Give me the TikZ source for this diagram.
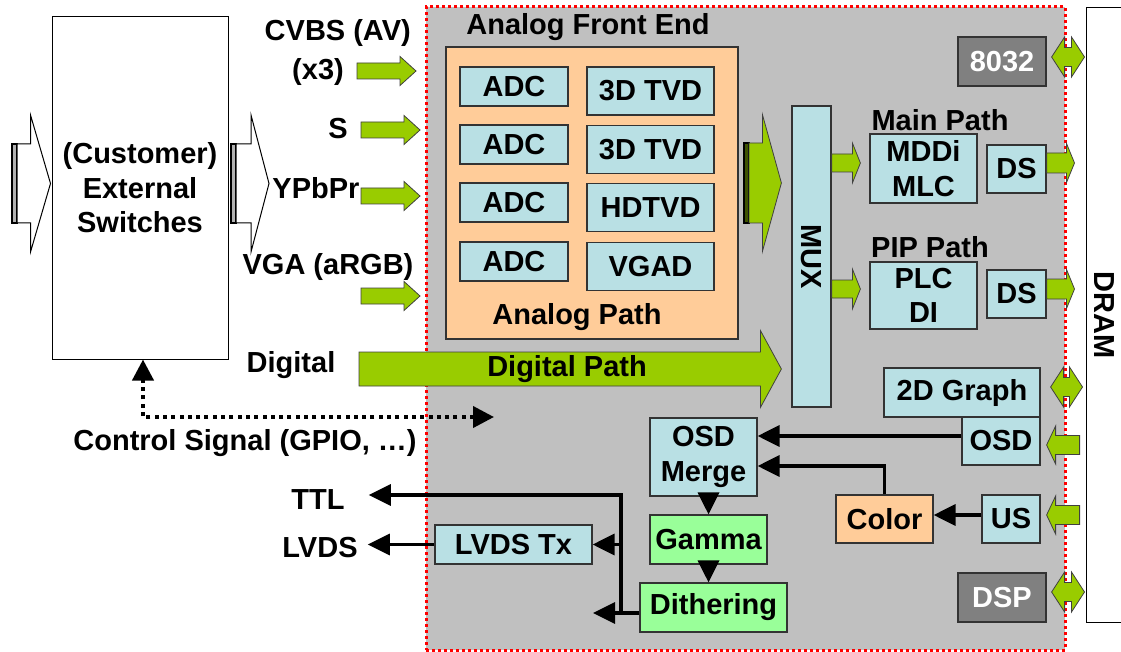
\documentclass[tikz,border=0pt]{standalone}
\usepackage{fontspec}
\setmainfont{Liberation Sans}
\usetikzlibrary{arrows.meta,calc}
\definecolor{socgray}{HTML}{C0C0C0}
\definecolor{lblue}{RGB}{185,224,228}
\definecolor{lorange}{HTML}{FFCC99}
\definecolor{agreen}{HTML}{99CC00}
\definecolor{lgreen}{HTML}{99FF99}
\definecolor{dgray}{HTML}{808080}
\begin{document}
\begin{tikzpicture}[x=1pt, y=-1pt,
    txt/.style={font=\bfseries\fontsize{29}{34.5}\selectfont, align=center, inner sep=0pt},
    blk/.style={txt, draw=black!80, line width=1.2pt, fill=lblue},
    conn/.style={line width=3.5pt, -{Triangle[length=22pt,width=21pt]}},
    ctl/.style={line width=4pt, dash pattern=on 4pt off 4.3pt, {Triangle[length=21pt,width=21pt]}-{Triangle[length=21pt,width=21pt]}},
    gfill/.style={fill=agreen, draw=black!75, line width=0.8pt},
    wfill/.style={fill=white, draw=black, line width=1pt},
    tailbar/.style={draw=black, line width=1.8pt},
    fat/.style n args={3}{to path={let \p1=(\tikztostart), \p2=(\tikztotarget) in
      (\x1,{\y1+#1}) -- ({\x2-(#3)},{\y1+#1}) -- ({\x2-(#3)},{\y1+#2}) -- (\x2,\y1)
      -- ({\x2-(#3)},{\y1-#2}) -- ({\x2-(#3)},{\y1-#1}) -- (\x1,{\y1-#1}) -- cycle}},
    dbl/.style n args={3}{to path={let \p1=(\tikztostart), \p2=(\tikztotarget) in
      (\x1,\y1) -- ({\x1+#3},{\y1+#2}) -- ({\x1+#3},{\y1+#1}) -- ({\x2-#3},{\y1+#1}) -- ({\x2-#3},{\y1+#2})
      -- (\x2,\y1) -- ({\x2-#3},{\y1-#2}) -- ({\x2-#3},{\y1-#1}) -- ({\x1+#3},{\y1-#1}) -- ({\x1+#3},{\y1-#2}) -- cycle}}]
    \useasboundingbox (0,0) rectangle (1121,652);
    % chip and memory
    \node[draw=red, fill=socgray, line width=3pt, dash pattern=on 3pt off 3pt, minimum width=639pt, minimum height=643pt, inner sep=0pt] (soc) at (745.5,328.5) {};
    \node[draw=black, line width=1pt, fill=white, minimum width=38pt, minimum height=614pt, inner sep=0pt] (dram) at (1105,315) {};
    \node[txt, rotate=-90] (draml) at (1104,315) {DRAM};
    % switches
    \node[txt, draw=black, line width=1pt, fill=white, minimum width=176pt, minimum height=342pt] (sw) at (140,188) {(Customer)\\External\\Switches};
    \coordinate (src) at (17,183.5);
    \draw[tailbar, fill=gray!60] ([xshift=-5pt,yshift=39.5pt]src) rectangle ([yshift=-39.5pt]src);
    \draw[wfill, fat={39.5pt}{68.5pt}{20pt}] (src) to ([xshift=-1pt]sw.west);
    \coordinate (swout) at (236,183.5);
    \coordinate (swtip) at (269,183.5);
    \draw[tailbar, fill=gray!60] ([xshift=-5pt,yshift=39.5pt]swout) rectangle ([yshift=-39.5pt]swout);
    \draw[wfill, fat={39.5pt}{68.5pt}{18pt}] (swout) to (swtip);
    % inputs
    \node[txt, anchor=east] (cvbs) at (411,33) {CVBS (AV)};
    \node[txt, anchor=east] (x3) at (344,72) {(x3)};
    \node[txt, anchor=east] (s) at (348,129) {S};
    \node[txt] (ypbpr) at (316,188) {YPbPr};
    \node[txt] (vga) at (328,267) {VGA (aRGB)};
    \node[txt] (dig) at (291,365) {Digital};
    \foreach \nm/\xa/\xb/\ya in {cvbs/357/416/71, s/361/420/130, ypbpr/361/420/196, vga/361/420/296} {
        \coordinate (in-\nm) at (\xa,\ya);
        \coordinate (tip-\nm) at (\xb,\ya);
        \draw[gfill, fat={8pt}{14.5pt}{16pt}] (in-\nm) to (tip-\nm);
    }
    % analog front end
    \node[txt] (afet) at (588,27) {Analog Front End};
    \node[draw=black!80, line width=1.2pt, fill=lorange, minimum width=292pt, minimum height=292pt, inner sep=0pt] (afe) at (592,193) {};
    \foreach \i/\ya in {1/86.5, 2/144.5, 3/202.5, 4/261.5}
        \node[blk, minimum width=108pt, minimum height=39pt] (adc\i) at (514,\ya) {ADC};
    \foreach \i/\ya/\lbl in {1/91/3D TVD, 2/149.5/3D TVD, 3/207.5/HDTVD, 4/266.5/VGAD}
        \node[blk, minimum width=127pt, minimum height=48pt] (tvd\i) at (650.5,\ya) {\lbl};
    \node[txt] (apath) at (577,317) {Analog Path};
    % mux
    \node[blk, minimum width=39pt, minimum height=301pt] (mux) at (811.5,256.5) {};
    \node[txt, rotate=-90] (muxl) at (mux) {MUX};
    \coordinate (aout) at (749,183);
    \draw[tailbar, fill=black!60!agreen] ([xshift=-5pt,yshift=40pt]aout) rectangle ([yshift=-40pt]aout);
    \draw[gfill, fat={40pt}{68.5pt}{19pt}] (aout) to ([xshift=-10pt]mux.west);
    \coordinate (digin) at (359,369);
    \draw[gfill, fat={17pt}{38.5pt}{21pt}] (digin) to ([xshift=-10pt]mux.west);
    \node[txt] (dpath) at (567,369) {Digital Path};
    % main and pip paths
    \node[txt] (mainl) at (940,120) {Main Path};
    \node[blk, minimum width=107pt, minimum height=69pt] (mddi) at (923.5,168.5) {MDDi\\MLC};
    \node[blk, minimum width=59pt, minimum height=48pt] (ds1) at (1016.5,169) {DS};
    \node[txt] (pipl) at (930,247) {PIP Path};
    \node[blk, minimum width=107pt, minimum height=67pt] (plc) at (923.5,295.5) {PLC\\DI};
    \node[blk, minimum width=59pt, minimum height=48pt] (ds2) at (1016.5,294) {DS};
    \draw[gfill, fat={9pt}{20pt}{8pt}] ([yshift=93.5pt]mux.east) to ([xshift=-9pt]mddi.west);
    \draw[gfill, fat={9pt}{20pt}{8pt}] ([yshift=-32.5pt]mux.east) to ([xshift=-9pt]plc.west);
    \draw[gfill, fat={10pt}{19.5pt}{8pt}] ([yshift=6pt]ds1.east) to ([xshift=-11pt]dram.west);
    \draw[gfill, fat={10pt}{19.5pt}{8pt}] ([yshift=5pt]ds2.east) to ([xshift=-11pt]dram.west);
    % side blocks
    \node[blk, fill=dgray, text=white, minimum width=88pt, minimum height=49pt] (cpu) at (1002,61.5) {8032};
    \node[blk, minimum width=156pt, minimum height=49pt] (g2d) at (962,392.5) {2D Graph};
    \node[blk, minimum width=78pt, minimum height=48pt] (osd) at (1001,441) {OSD};
    \node[blk, fill=lorange, minimum width=97pt, minimum height=48pt] (color) at (884.5,519) {Color};
    \node[blk, minimum width=58pt, minimum height=48pt] (us) at (1011,519) {US};
    \node[blk, fill=dgray, text=white, minimum width=88pt, minimum height=49pt] (dsp) at (1002,597.5) {DSP};
    \draw[gfill, dbl={9.5pt}{20pt}{13pt}] ([xshift=5pt,yshift=4.5pt]cpu.east) to ([xshift=-1pt]dram.west);
    \draw[gfill, dbl={9.5pt}{20pt}{13pt}] ([xshift=10pt,yshift=5.5pt]g2d.east) to ([xshift=-3pt]dram.west);
    \draw[gfill, dbl={9.5pt}{20pt}{13pt}] ([xshift=5pt,yshift=5.5pt]dsp.east) to ([xshift=-1pt]dram.west);
    \draw[gfill, fat={9.5pt}{19pt}{-9pt}] ([xshift=39pt,yshift=-4pt]osd.east) to ([xshift=6pt]osd.east);
    \draw[gfill, fat={9.5pt}{19pt}{-9pt}] ([xshift=39pt,yshift=4pt]us.east) to ([xshift=6pt]us.east);
    % output chain
    \node[blk, minimum width=107pt, minimum height=78pt] (merge) at (703.5,457) {OSD\\Merge};
    \node[blk, fill=lgreen, minimum width=117pt, minimum height=49pt] (gamma) at (708.5,539.5) {Gamma};
    \node[blk, fill=lgreen, minimum width=147pt, minimum height=49pt] (dith) at (713.5,607.5) {Dithering};
    \node[blk, minimum width=157pt, minimum height=39pt] (lvds) at (513.5,544.5) {LVDS Tx};
    \node[txt] (ttl) at (318,500) {TTL};
    \node[txt] (lvdsl) at (320,548) {LVDS};
    \draw[conn] ([yshift=5pt]osd.west) -- ([yshift=5pt]osd.west -| merge.east);
    \draw[conn] (color.north) |- ([yshift=-9pt]merge.east);
    \draw[conn] ([yshift=4pt]us.west) -- ([yshift=4pt]color.east);
    \draw[conn] (gamma.north |- merge.south) -- (gamma.north);
    \draw[conn] (gamma.south) -- (gamma.south |- dith.north);
    \coordinate (jn) at (621,613);
    \draw[line width=3.5pt] (dith.west |- jn) -- (jn);
    \draw[conn] (jn) -- ++(-28,0);
    \draw[conn] (jn) |- ([xshift=24pt,yshift=5pt]ttl.east);
    \draw[conn] (jn |- lvds.east) -- (lvds.east);
    \draw[conn] (lvds.west) -- ([xshift=10pt]lvds.west -| lvdsl.east);
    % control
    \node[txt] (ctll) at (245,443) {Control Signal (GPIO, …)};
    \coordinate (ctlend) at (494,417);
    \draw[ctl] (ctlend) -| ([xshift=3pt]sw.south);
\end{tikzpicture}
\end{document}
